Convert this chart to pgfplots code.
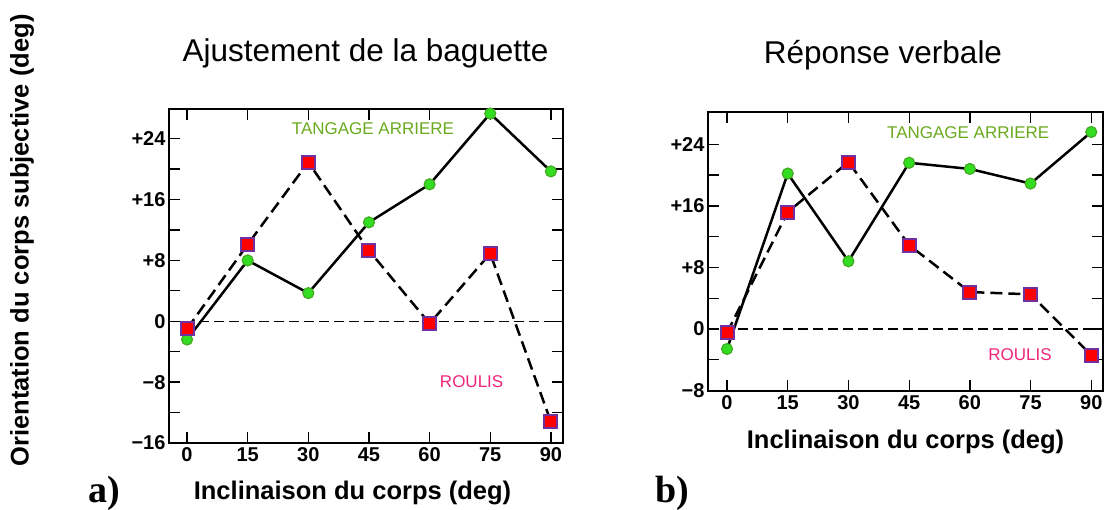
\documentclass[border=0pt]{standalone}
\usepackage{fontspec}
\setmainfont{Liberation Sans}
\newfontfamily\seriffont{Liberation Serif}
\usepackage{pgfplots}
\pgfplotsset{compat=1.18}
\definecolor{tgreen}{HTML}{6AAA1E}
\definecolor{rpink}{HTML}{F0247A}
\definecolor{mfill}{HTML}{33DD22}
\definecolor{mdraw}{HTML}{44AA22}
\definecolor{sqdraw}{HTML}{7030A0}
\pgfplotsset{
  panel/.style={
    scale only axis, clip=false,
    axis line style={line width=1.5pt},
    tick align=inside,
    major tick length=11pt, minor tick length=11pt,
    tick style={line width=1.3pt, black},
    xtick={0,15,30,45,60,75,90},
    ticklabel style={font=\bfseries\fontsize{20}{20}\selectfont},
    /pgf/number format/assume math mode=true,
    xticklabel style={yshift=-1pt},
  },
  tang/.style={black, solid, line width=2.5pt, mark=*, mark size=5.5pt,
    mark options={solid, fill=mfill, draw=mdraw, line width=1.2pt}},
  roul/.style={black, dash pattern=on 12pt off 6pt, line width=2.5pt, mark=square*, mark size=6.5pt,
    mark options={solid, fill=red, draw=sqdraw, line width=2pt}},
}
\begin{document}
\begin{tikzpicture}[x=1pt,y=1pt]
\path[use as bounding box] (0,0) rectangle (1105,510);
% Panel a
\begin{axis}[panel, at={(169pt,67pt)}, anchor=south west,
  width=394pt, height=334pt,
  xmin=-4.46, xmax=93.0, ymin=-16, ymax=27.9,
  ytick={-16,-8,0,8,16,24},
  yticklabels={−16,−8,0,+8,+16,+24},
  minor ytick={-12,-4,4,12,20},
]
\addplot[black, dash pattern=on 10pt off 5pt, line width=1.3pt] coordinates {(-4.46,0) (93,0)};
\addplot[tang] coordinates {(0,-2.4) (15,8) (30,3.7) (45,13) (60,18) (75,27.3) (90,19.7)};
\addplot[roul] coordinates {(0,-1) (15,10.1) (30,20.9) (45,9.3) (60,-0.3) (75,8.9) (90,-13.2)};
\node[text=tgreen, font=\fontsize{17}{17}\selectfont] at (axis cs:46,25.3) {TANGAGE ARRIERE};
\node[text=rpink, font=\fontsize{17}{17}\selectfont] at (axis cs:70.4,-8) {ROULIS};
\end{axis}
% Panel b
\begin{axis}[panel, at={(708pt,119pt)}, anchor=south west,
  width=395pt, height=279pt,
  xmin=-4.7, xmax=92.9, ymin=-8.06, ymax=28.2,
  ytick={-8,0,8,16,24},
  yticklabels={−8,0,+8,+16,+24},
  minor ytick={-4,4,12,20},
]
\addplot[black, dash pattern=on 10pt off 5pt, line width=1.3pt] coordinates {(-4.7,0) (92.9,0)};
\addplot[tang] coordinates {(0,-2.6) (15,20.2) (30,8.8) (45,21.6) (60,20.8) (75,18.9) (90,25.6)};
\addplot[roul] coordinates {(0,-0.5) (15,15.2) (30,21.7) (45,10.9) (60,4.8) (75,4.5) (90,-3.4)};
\node[text=tgreen, font=\fontsize{17}{17}\selectfont] at (axis cs:59.6,25.5) {TANGAGE ARRIERE};
\node[text=rpink, font=\fontsize{17}{17}\selectfont] at (axis cs:72.4,-3.4) {ROULIS};
\end{axis}
% Titles and labels
\node[anchor=base, font=\fontsize{31.5}{31.5}\selectfont] at (365.5,448) {Ajustement de la baguette};
\node[anchor=base, font=\fontsize{31.5}{31.5}\selectfont] at (883,446) {Réponse verbale};
\node[anchor=base, font=\bfseries\fontsize{25.5}{25.5}\selectfont] at (352.5,10) {Inclinaison du corps (deg)};
\node[anchor=base, font=\bfseries\fontsize{25.5}{25.5}\selectfont] at (905.5,61) {Inclinaison du corps (deg)};
\node[rotate=90, font=\bfseries\fontsize{25.5}{25.5}\selectfont] at (22,269.5) {Orientation du corps subjective (deg)};
\node[anchor=base west, inner sep=0pt, font=\seriffont\bfseries\fontsize{38}{38}\selectfont] at (88,7) {a)};
\node[anchor=base west, inner sep=0pt, font=\seriffont\bfseries\fontsize{38}{38}\selectfont] at (655,7) {b)};
\end{tikzpicture}
\end{document}
